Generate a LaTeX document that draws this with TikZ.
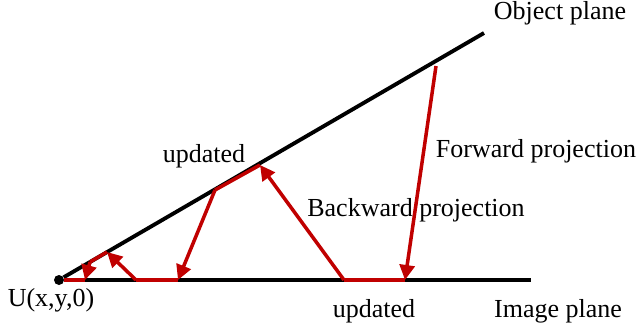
\documentclass[tikz,border=0pt]{standalone}
\usepackage{fontspec}
\setmainfont{Liberation Serif}
\usepackage{xcolor}
\usetikzlibrary{arrows.meta,positioning,calc}
\definecolor{raydark}{RGB}{192,0,0}
\begin{document}
\begin{tikzpicture}[
  nd/.style={circle,fill=black,inner sep=0pt,minimum size=2mm},
  plane/.style={line width=2.2pt,black},
  ray/.style={line width=2pt,color=raydark,-{Triangle[length=3mm,width=3mm]}},
  seg/.style={line width=2pt,color=raydark},
  lab/.style={font=\fontsize{14.8}{17}\selectfont,inner sep=0pt}
]
\useasboundingbox (0,0) rectangle (12.74,6.66);
\node[nd] (o)  at (1.18,1.06) {};
\coordinate (imgend) at (10.62,1.06);
\coordinate (objend) at (9.68,6.00);
\draw[plane] (o)--(imgend);
\draw[plane] (o)--(objend);
% zig-zag of the rays
\coordinate (a) at (8.72,5.34);
\coordinate (b) at (8.10,1.06);
\coordinate (c) at (6.88,1.06);
\coordinate (d) at (5.20,3.36);
\coordinate (e) at (4.30,2.86);
\coordinate (f) at (3.56,1.06);
\coordinate (g) at (2.72,1.06);
\coordinate (h) at (2.14,1.62);
\coordinate (i) at (1.80,1.42);
\coordinate (j) at (1.70,1.06);
\draw[ray] (a)--(b);
\draw[seg] (b)--(c);
\draw[ray] (c)--(d);
\draw[seg] (d)--(e);
\draw[ray] (e)--(f);
\draw[seg] (f)--(g);
\draw[ray] (g)--(h);
\draw[seg] (h)--(i);
\draw[ray] (i)--(j);
\draw[seg] (j)--(o);
\node[lab] (objlab) at (11.20,6.40) {Object plane};
\node[lab] (imglab) at (11.16,0.44) {Image plane};
\node[lab] (fwd)    at (10.72,3.64) {Forward projection};
\node[lab] (bwd)    at (8.32,2.46)  {Backward projection};
\node[lab] (uptop)  at (4.08,3.54)  {updated};
\node[lab] (upbot)  at (7.48,0.44)  {updated};
\node[lab] (ulab)   at (1.02,0.66)  {U(x,y,0)};
\end{tikzpicture}
\end{document}
